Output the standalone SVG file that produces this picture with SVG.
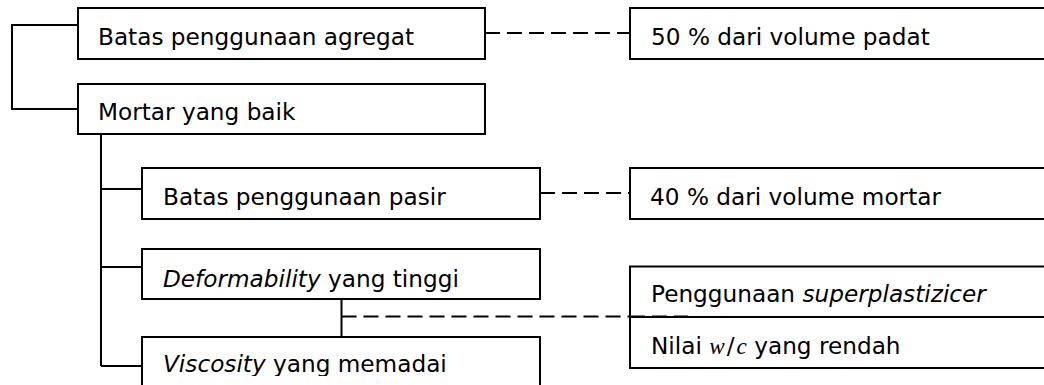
<svg xmlns="http://www.w3.org/2000/svg" width="1044" height="385" viewBox="0 0 1044 385">
<style>
.box{fill:#fff;stroke:#000;stroke-width:2}
.ln{fill:none;stroke:#000;stroke-width:2}
.dash{fill:none;stroke:#000;stroke-width:2;stroke-dasharray:15 7}
.t{font-family:"DejaVu Sans",Verdana,sans-serif;font-size:23.2px;fill:#000}
.i{font-style:italic}
.m{font-family:"Liberation Serif","DejaVu Serif",serif;font-style:italic}
</style>
<defs>
<clipPath id="cut"><rect x="0" y="0" width="1044" height="376"/></clipPath>
</defs>
<rect width="1044" height="385" fill="#fff"/>
<g id="connectors">
<path class="ln" d="M78,25 H12 V109 H78"/>
<path class="ln" d="M101,134 V366 M101,189 H142 M101,267 H142 M101,366 H142"/>
<path class="ln" d="M341.5,299 V337"/>
<path class="dash" d="M485,33 H630"/>
<path class="dash" d="M540,193 H630"/>
<path class="dash" d="M341.5,316.5 H688"/>
</g>
<g id="n1"><rect class="box" x="78" y="8" width="407" height="51"/><text class="t" x="98" y="45">Batas penggunaan agregat</text></g>
<g id="n2"><rect class="box" x="78" y="84" width="407" height="50"/><text class="t" x="98" y="120">Mortar yang baik</text></g>
<g id="n3"><rect class="box" x="630" y="8" width="420" height="51"/><text class="t" x="651" y="45">50 % dari volume padat</text></g>
<g id="n4"><rect class="box" x="142" y="168" width="398" height="51"/><text class="t" x="163" y="205">Batas penggunaan pasir</text></g>
<g id="n5"><rect class="box" x="630" y="168" width="420" height="51"/><text class="t" x="650" y="205">40 % dari volume mortar</text></g>
<g id="n6"><rect class="box" x="142" y="249" width="398" height="50"/><text class="t" x="163" y="286.5"><tspan class="i">Deformability</tspan> yang tinggi</text></g>
<g id="n7"><rect class="box" x="142" y="337" width="398" height="60"/><text class="t" x="163" y="372" clip-path="url(#cut)"><tspan class="i">Viscosity</tspan> yang memadai</text></g>
<g id="n8"><rect class="box" x="630" y="266.5" width="420" height="50.5"/><text class="t" x="651" y="302">Penggunaan <tspan class="i">superplastizicer</tspan></text></g>
<g id="n9"><rect class="box" x="630" y="317" width="420" height="51"/><text class="t" x="651" y="353.5">Nilai <tspan class="m">w</tspan><tspan dx="2">/</tspan><tspan class="m" dx="2">c</tspan> yang rendah</text></g>
<path class="dash" d="M630,316.5 H688"/>
</svg>
